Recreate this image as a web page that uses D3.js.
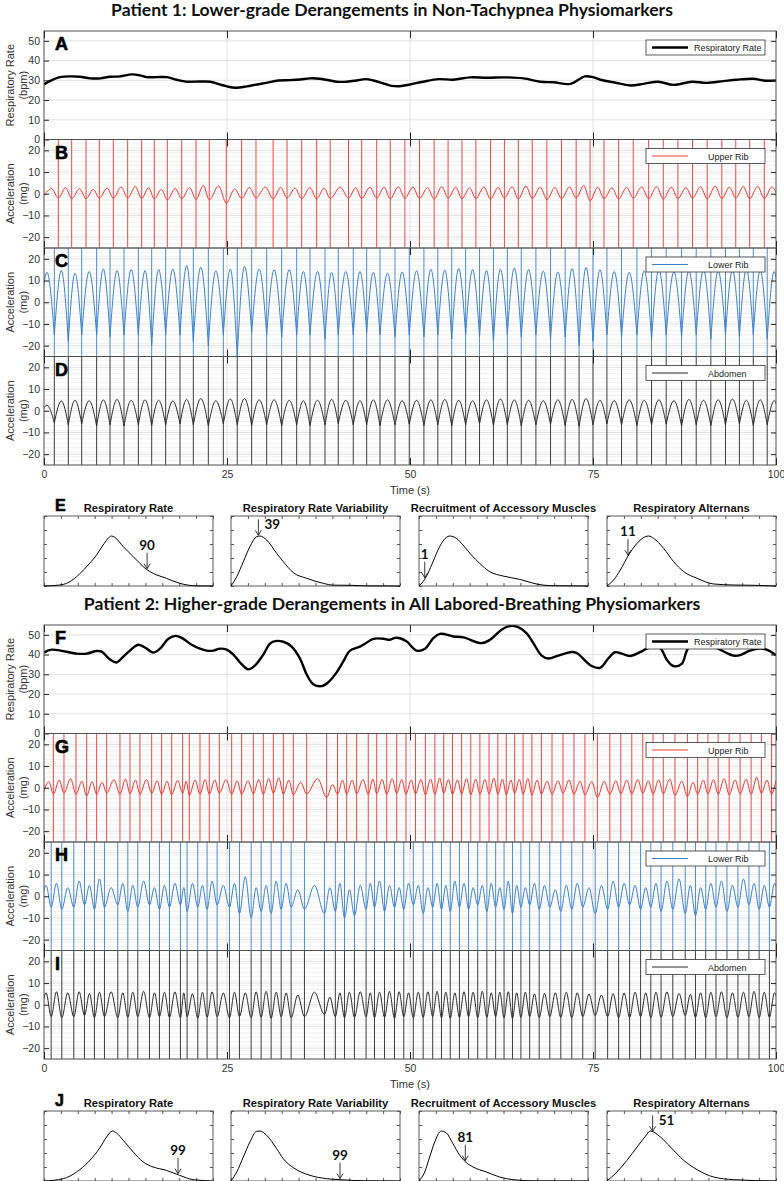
<!DOCTYPE html>
<html><head><meta charset="utf-8">
<script src="https://cdn.jsdelivr.net/npm/d3@7"></script>
<style>body{margin:0;background:#fff}svg{display:block}</style>
</head><body><svg id="c" width="784" height="1181" font-family="Liberation Sans, Arial, sans-serif"></svg>
<script>
// ---------------- DATA ----------------
const timeTicks=[0,25,50,75,100];
const rrTicks=[0,10,20,30,40,50];
const accTicks=[-20,-10,0,10,20];
const titles=["Patient 1: Lower-grade Derangements in Non-Tachypnea Physiomarkers","Patient 2: Higher-grade Derangements in All Labored-Breathing Physiomarkers"];
const densTitles=["Respiratory Rate","Respiratory Rate Variability","Recruitment of Accessory Muscles","Respiratory Alternans"];

// Respiratory rate (bpm) [time s, value]
const rr1=[[0,27.9],[0.8,29.6],[2.2,31.6],[3.6,32],[4.9,31.8],[6.3,31],[7.7,31],[9.0,31.8],[10.4,32],[12.0,33],[13.1,32.5],[14.0,31.6],[15.4,31.6],[16.8,31.6],[18.1,30.3],[19.5,29.3],[21.3,29.4],[22.7,29.3],[24.0,27.9],[25.0,26.9],[26.1,26.2],[27.7,26.9],[29.1,27.9],[30.4,28.7],[32.0,29.9],[33.6,30.1],[35.0,30.4],[36.3,31],[37.7,30.8],[39.1,29.9],[40.0,29.3],[41.4,29.3],[42.7,29.9],[43.9,30.6],[45.0,29.9],[46.4,28.4],[47.5,27.2],[48.6,27.0],[50.0,27.9],[51.8,29.3],[53.9,30.6],[55.9,30.3],[58.2,31.5],[60.5,31.3],[63.2,31.5],[65.5,31],[67.8,29.3],[69.6,29],[71.9,28.2],[73.9,32],[75.0,31.6],[76.0,30.3],[77.8,29],[80.1,27.4],[81.9,28.2],[83.9,29.3],[86.0,27.7],[88.5,29.3],[90.5,28.7],[92.8,29.6],[94.6,30.3],[96.9,30.8],[98.3,29.9],[100,29.9]];
const rr2=[[0,41],[1.05,42.5],[4.46,40.5],[5.83,40.5],[7.19,41.8],[7.88,41.5],[9.02,37.5],[9.93,36],[10.84,39],[12.2,43.5],[12.89,45],[14.03,43],[14.94,41],[15.85,43],[16.99,48],[17.99,49.5],[18.81,48.5],[20.17,45],[21.31,43],[22.22,42],[23.13,42],[24.04,43],[24.95,42.5],[25.87,40],[26.78,36],[27.91,32.5],[28.83,34.5],[29.96,40],[30.87,45.5],[31.56,46.8],[32.7,46.5],[33.83,44],[34.97,38],[35.88,30],[36.79,25],[37.93,24],[38.84,26],[39.98,31],[40.89,36.5],[41.8,42],[43.17,44],[43.85,45.5],[44.99,48],[46.36,48],[47.27,47.5],[47.95,48.5],[48.63,48.3],[49.54,46.7],[50.9,42],[52.05,43],[53.19,48.3],[54.1,50.5],[55.92,49.2],[57.29,48.7],[59.79,45.8],[60.93,47.5],[62.3,52],[63.43,54.3],[64.57,54.2],[65.94,50.8],[66.85,45.8],[67.99,39.5],[68.9,38],[70.26,39.5],[72.09,41.3],[72.77,40.8],[74.82,34.2],[75.96,33.3],[77.09,38],[78.0,41.2],[78.92,40.5],[80.05,39.3],[81.42,41.2],[82.56,43.3],[84.15,43.3],[85.06,37.5],[85.97,34.2],[87.11,35.3],[88.02,43.3],[89.5,46],[91.5,44],[93.26,40.8],[94.17,39.5],[95.08,39.7],[96.45,42],[97.81,43],[98.72,42.5],[100,39.7]];

// Breath marker times (s)
const p1UpperTimes=[-0.1,1.96,3.78,5.74,7.56,9.47,11.43,13.34,15.07,16.85,18.81,20.77,22.58,24.9,27.0,28.96,31.3,33.2,35.2,37.25,39.1,41.6,43.4,45.45,47.3,49.3,51.3,53.3,55.2,57.1,59.0,61.0,62.9,64.8,66.7,68.7,70.7,72.7,74.6,76.5,78.5,80.5,82.6,84.6,86.6,88.6,90.6,92.6,94.5,96.4,98.4,100.3];
const p1LowerTimes=[-0.6,1.41,3.32,5.15,7.19,9.02,10.93,12.89,14.71,16.62,18.58,20.4,22.45,24.5,26.4,28.37,30.42,32.47,34.52,36.34,38.39,40.2,42.25,44.08,45.9,47.95,49.9,51.9,53.8,55.7,57.6,59.5,61.4,63.3,65.2,67.2,69.2,71.2,73.1,75.0,76.9,78.9,81.0,83.0,85.0,87.1,89.1,91.1,93.1,95.0,96.9,98.8,100.7];
const p2UpperTimes=[-0.1,1.28,2.73,4.37,5.83,7.19,8.56,10.38,11.75,13.11,14.71,16.07,17.44,18.94,19.85,21.31,22.58,23.95,25.64,27.0,28.6,29.96,31.33,32.7,34.06,35.88,38.61,40.1,41.35,42.71,44.3,45.45,46.82,48.18,49.45,50.75,52.1,53.4,54.6,55.8,57.05,58.3,59.55,60.8,62.0,63.15,64.3,65.45,66.65,67.95,69.4,70.9,72.4,73.9,75.6,77.3,78.8,80.3,81.8,83.2,84.6,86.2,87.9,89.3,90.7,92.1,93.6,95.1,96.6,98.0,99.4,100.8];
const p2LowerTimes=[-0.4,0.98,2.43,4.07,5.53,6.89,8.26,10.08,11.45,12.81,14.41,15.77,17.14,18.64,19.55,21.01,22.28,23.65,25.34,26.7,28.3,29.66,31.03,32.4,33.76,35.58,38.31,39.8,41.05,42.41,44.0,45.15,46.52,47.88,49.15,50.45,51.8,53.1,54.3,55.5,56.75,58.0,59.25,60.5,61.7,62.85,64.0,65.15,66.35,67.65,69.1,70.6,72.1,73.6,75.3,77.0,78.5,80.0,81.5,82.9,84.3,85.9,87.6,89.0,90.4,91.8,93.3,94.8,96.3,97.7,99.1,100.5];

// Acceleration extremes (mg): trough at each marker, peak after it
const upperRib1Troughs=[-1.2,-2.0,-2.3,-2.3,-2.0,-2.0,-2.0,-2.2,-2.4,-2.8,-2.3,-2.6,-2.8,-4.3,-2.2,-2.0,-2.3,-2.0,-2.3,-2.4,-2.2,-2.0,-2.2,-2.0,-2.4,-2.0,-2.2,-2.5,-2.0,-2.3,-2.2,-2.5,-2.0,-2.4,-2.2,-2.6,-2.3,-2.0,-3.2,-2.2,-2.4,-2.0,-2.3,-2.5,-2.2,-2.0,-2.4,-2.2,-2.0,-2.3,-2.2,-2.0];
const upperRib1Peaks=[2.3,2.8,2.3,2.0,2.6,3.1,3.3,2.8,2.0,2.4,2.8,3.8,3.6,2.2,2.9,3.1,2.9,2.6,2.8,2.6,3.0,2.8,3.0,3.0,3.2,3.0,2.8,3.3,3.0,2.7,3.1,2.9,3.2,3.5,3.0,2.8,3.1,3.8,3.0,2.7,2.9,3.1,3.3,3.0,2.8,3.2,3.5,3.0,3.3,3.4,3.1];
const lowerRib1Troughs=[-12,-15,-18,-15,-15,-16,-15,-15,-20,-15,-15,-18,-20,-15,-25,-14,-15,-16,-15,-15,-17,-15,-15,-14,-15,-16,-15,-16,-15,-17,-15,-16,-18,-15,-16,-15,-17,-16,-20,-18,-15,-16,-15,-17,-15,-16,-15,-17,-15,-16,-15,-17,-15];
const lowerRib1Peaks=[13.8,14.6,13.4,14.2,15.3,14.6,15.0,14.6,15.0,15.3,16.9,16.2,14.5,15.3,16.5,15.3,15.0,15.0,14.2,14.2,13.8,14.2,14.2,13.8,13.4,14.0,14.5,15.2,14.8,15.5,15.0,14.6,15.2,15.8,15.0,14.4,14.0,15.5,16.0,15.0,14.2,13.8,14.5,15.0,14.0,14.6,15.0,14.4,14.8,15.2,14.6,14.2];
const abdomen1Troughs=[-3,-5.5,-6.5,-6.0,-7.0,-6.5,-7.0,-6.5,-6.8,-6.5,-6.0,-6.5,-7.0,-6.0,-6.5,-6.8,-6.5,-7.0,-6.5,-6.8,-6.5,-6.0,-6.5,-6.5,-6.8,-6.5,-6.2,-6.8,-6.5,-7.0,-6.5,-6.0,-6.8,-6.5,-7.0,-6.5,-6.2,-6.8,-7.2,-6.5,-6.0,-6.5,-6.8,-6.5,-6.2,-7.0,-6.5,-6.8,-6.5,-6.0,-6.8,-6.5,-6.5];
const abdomen1Peaks=[2.5,4.5,4.8,4.6,5.0,5.2,4.8,5.0,4.8,4.5,5.2,5.6,4.6,5.4,5.6,5.0,5.0,4.8,4.6,4.8,5.2,4.8,4.6,5.0,5.0,4.6,4.8,5.0,5.2,4.8,4.6,5.0,5.4,5.0,4.8,4.6,5.0,5.2,5.6,4.8,4.6,5.0,4.8,5.0,4.6,5.2,4.8,5.0,5.4,4.8,5.0,4.6];
const upperRib2Troughs=[-2.5,-3.0,-2.5,-3.0,-3.8,-3.0,-2.5,-3.0,-2.8,-3.0,-2.6,-3.0,-3.2,-2.6,-3.5,-3.0,-3.0,-2.5,-3.0,-3.0,-2.8,-3.0,-2.6,-3.0,-3.2,-2.8,-4.5,-3.0,-3.0,-2.8,-3.0,-2.8,-3.0,-2.6,-3.0,-2.8,-3.2,-3.0,-2.6,-3.0,-2.8,-3.2,-3.0,-2.8,-3.0,-3.2,-2.6,-3.0,-3.4,-2.8,-3.0,-2.6,-3.0,-3.2,-4.5,-3.0,-2.8,-3.0,-2.6,-3.0,-2.8,-3.5,-4.0,-3.0,-2.8,-3.0,-3.2,-2.8,-3.0,-2.6,-3.0,-2.8];
const upperRib2Peaks=[2.8,3.5,4.2,3.0,2.8,2.5,3.8,4.0,3.5,3.8,3.2,3.0,3.4,3.0,3.5,3.8,3.6,3.8,3.2,3.2,3.8,4.2,4.6,3.5,2.5,4.2,1.5,3.5,3.5,3.8,4.0,3.8,4.2,3.8,3.5,3.8,4.0,4.5,3.8,3.6,4.2,4.0,3.8,4.4,4.0,3.6,3.8,4.2,3.5,3.0,3.2,3.6,3.0,2.8,3.0,3.2,3.5,3.8,3.2,3.6,4.0,3.0,2.5,3.5,3.8,4.2,3.6,4.0,4.8,3.5,3.8];
const lowerRib2Troughs=[-4,-5,-6,-5,-4,-6,-5,-4,-7,-5,-4,-6,-5,-4,-7,-5,-6,-4,-5,-8,-10,-7,-8,-6,-5,-6,-8,-7,-10,-9,-6,-5,-7,-5,-6,-4,-8,-5,-6,-7,-5,-6,-4,-7,-5,-6,-8,-5,-4,-6,-5,-7,-6,-5,-8,-6,-5,-4,-6,-5,-7,-6,-8,-9,-6,-5,-7,-5,-4,-6,-5,-5];
const lowerRib2Peaks=[5,6,4,7,5,8,4,6,5,7,4,5,6,4,6,5,7,5,6,9,4,5,7,6,3,5,4,6,3,5,6,7,5,4,6,5,4,6,5,7,6,4,5,6,4,7,5,4,6,5,3,5,6,4,5,7,6,5,4,6,7,8,5,4,6,7,5,8,6,5,6];
const abdomen2Troughs=[-5,-5.5,-6,-5.5,-5,-6,-5.5,-6,-5.8,-5.5,-6,-5.5,-5.8,-6,-5.5,-6.2,-5.8,-5.5,-6,-5.5,-6,-5.8,-6.2,-5.5,-6,-5.5,-4.5,-5.5,-6,-5.8,-5.5,-6,-5.8,-6.2,-5.5,-6,-5.8,-5.5,-6,-6.2,-5.8,-5.5,-6,-5.8,-5.5,-6,-6.2,-5.8,-5.5,-6,-5.5,-5.8,-6,-5.5,-5,-5.5,-6,-5.8,-5.5,-6,-5.8,-5.5,-5,-5.8,-6,-5.5,-6,-5.8,-5.5,-6,-5.8,-5.5];
const abdomen2Peaks=[5.5,6,5.5,6,5.2,5.8,6,5.5,5.8,6.2,5.5,5.8,6,5.5,5,5.8,6,5.5,5.8,5.5,6,6.2,5.8,5.5,4.5,5.8,3.5,5.5,5.8,6,5.5,5.8,6.2,6,5.5,5.8,6,6.2,5.8,5.5,6,5.8,6.2,5.5,5.8,6,5.5,5.8,5,5.2,5.5,5.8,5.5,5,4.5,5.2,5.5,5.8,5.5,5.8,6,5.2,4.8,5.5,5.8,6,5.5,5.8,6.2,5.8,5.5];

// Distribution curves [x fraction, density]
const dE1=[[0,0],[0.094,0.014],[0.134,0.038],[0.193,0.133],[0.252,0.276],[0.311,0.443],[0.350,0.586],[0.400,0.714],[0.419,0.695],[0.469,0.562],[0.528,0.419],[0.567,0.324],[0.606,0.238],[0.646,0.181],[0.724,0.110],[0.803,0.038],[0.902,0.002],[1,0]];
const dE2=[[0,0],[0.034,0.133],[0.073,0.348],[0.112,0.562],[0.152,0.705],[0.171,0.714],[0.211,0.657],[0.270,0.467],[0.309,0.348],[0.369,0.190],[0.448,0.110],[0.546,0.038],[0.606,0.012],[0.704,0.01],[0.803,0.002],[1,0]];
const dE3=[[0,0],[0.024,0.062],[0.053,0.181],[0.083,0.348],[0.122,0.562],[0.162,0.695],[0.181,0.714],[0.221,0.681],[0.260,0.586],[0.310,0.443],[0.359,0.324],[0.418,0.205],[0.497,0.143],[0.596,0.095],[0.694,0.029],[0.773,0.005],[1,0]];
const dE4=[[0,0],[0.039,0.086],[0.079,0.229],[0.128,0.443],[0.178,0.610],[0.227,0.705],[0.247,0.714],[0.276,0.681],[0.335,0.538],[0.394,0.348],[0.454,0.205],[0.533,0.110],[0.631,0.029],[0.750,0.014],[0.868,0.010],[1,0]];
const dJ1=[[0,0],[0.114,0.033],[0.193,0.129],[0.262,0.271],[0.331,0.476],[0.370,0.629],[0.406,0.714],[0.429,0.686],[0.469,0.581],[0.528,0.414],[0.587,0.271],[0.646,0.200],[0.724,0.152],[0.803,0.081],[0.882,0.019],[1,0]];
const dJ2=[[0,0],[0.034,0.129],[0.073,0.343],[0.112,0.557],[0.152,0.710],[0.171,0.714],[0.211,0.652],[0.270,0.462],[0.309,0.319],[0.369,0.190],[0.467,0.081],[0.566,0.033],[0.645,0.019],[0.803,0.002],[1,0]];
const dJ3=[[0,0],[0.034,0.129],[0.063,0.343],[0.093,0.557],[0.122,0.700],[0.132,0.714],[0.162,0.686],[0.201,0.533],[0.241,0.367],[0.276,0.271],[0.320,0.200],[0.398,0.129],[0.477,0.057],[0.556,0.019],[0.675,0.002],[1,0]];
const dJ4=[[0,0],[0.059,0.129],[0.118,0.295],[0.178,0.486],[0.227,0.638],[0.256,0.714],[0.316,0.629],[0.375,0.486],[0.454,0.295],[0.533,0.162],[0.631,0.057],[0.750,0.019],[1,0]];
const markersE=[90,39,1,11];
const markersEx=[0.61,0.162,0.034,0.124];
const markersJ=[99,99,81,51];
const markersJx=[0.793,0.645,0.274,0.27];

// ---------------- DRAWING ----------------
const SANS='Liberation Sans, Arial, sans-serif';
const TITLEF='Lato, Open Sans, sans-serif';
const svg=d3.select('#c');
const defs=svg.append('defs');
const X0=44,X1=776;
const x=d3.scaleLinear().domain([0,100]).range([X0,X1]);
const AX='#262626';

function wavePts(times,tr,pk,phase){
  const pts=[];
  for(let i=0;i<times.length;i++){
    pts.push([times[i],tr[Math.min(i,tr.length-1)]]);
    if(i<times.length-1) pts.push([times[i]+(times[i+1]-times[i])*phase,pk[Math.min(i,pk.length-1)]]);
  }
  return pts;
}

function timePanel(c){
  const top=c.top,h=c.h,bot=top+h;
  const y=d3.scaleLinear().domain(c.domain).range([bot,top]);
  const g=svg.append('g');
  const cid='clip'+c.letter;
  defs.append('clipPath').attr('id',cid).append('rect').attr('x',X0).attr('y',top).attr('width',X1-X0).attr('height',h);
  if(c.minor){
    g.selectAll(null).data(d3.range(c.domain[0],c.domain[1]+1e-6,c.minor)).join('line')
      .attr('x1',X0).attr('x2',X1).attr('y1',d=>y(d)).attr('y2',d=>y(d)).attr('stroke','#ececec').attr('stroke-width',0.8);
  }
  g.selectAll(null).data(c.ticks).join('line')
    .attr('x1',X0).attr('x2',X1).attr('y1',d=>y(d)).attr('y2',d=>y(d)).attr('stroke','#dedede').attr('stroke-width',0.9);
  g.selectAll(null).data(timeTicks.slice(1,-1)).join('line')
    .attr('x1',d=>x(d)).attr('x2',d=>x(d)).attr('y1',top).attr('y2',bot).attr('stroke','#dedede').attr('stroke-width',0.9);
  const p=g.append('g').attr('clip-path',`url(#${cid})`);
  if(c.times){
    p.selectAll(null).data(c.times).join('line')
      .attr('x1',d=>x(d)).attr('x2',d=>x(d)).attr('y1',top).attr('y2',bot)
      .attr('stroke',c.color).attr('stroke-width',1).attr('opacity',0.9);
  }
  const line=d3.line().x(d=>x(d[0])).y(d=>y(d[1]));
  let dstr='';
  if(c.series){
    dstr=line.curve(d3.curveCatmullRom.alpha(0.5))(c.series);
  } else if(c.sharp){
    const pts=wavePts(c.times,c.troughs,c.peaks,c.phase);
    line.curve(d3.curveMonotoneX);
    for(let i=0;i+2<pts.length;i+=2) dstr+=line([pts[i],pts[i+1],pts[i+2]]);
  } else {
    dstr=line.curve(d3.curveMonotoneX)(wavePts(c.times,c.troughs,c.peaks,c.phase));
  }
  p.append('path').attr('d',dstr).attr('fill','none').attr('stroke',c.color).attr('stroke-width',c.sw).attr('stroke-linejoin','round');
  g.append('rect').attr('x',X0).attr('y',top).attr('width',X1-X0).attr('height',h).attr('fill','none').attr('stroke','#505050').attr('stroke-width',1);
  const ya=g.append('g').attr('transform',`translate(${X0},0)`)
    .call(d3.axisLeft(y).tickValues(c.ticks).tickSizeInner(-5).tickSizeOuter(0).tickPadding(4));
  const yr=g.append('g').attr('transform',`translate(${X1},0)`)
    .call(d3.axisRight(y).tickValues(c.ticks).tickSizeInner(-5).tickSizeOuter(0).tickFormat(''));
  const xt=g.append('g').attr('transform',`translate(0,${top})`)
    .call(d3.axisTop(x).tickValues(timeTicks).tickSizeInner(-7).tickSizeOuter(0).tickFormat(''));
  const xb=g.append('g').attr('transform',`translate(0,${bot})`)
    .call(d3.axisBottom(x).tickValues(timeTicks).tickSizeInner(-7).tickSizeOuter(0).tickPadding(6).tickFormat(c.xlabels?d3.format('d'):''));
  [ya,yr,xt,xb].forEach(a=>{a.select('.domain').remove();a.selectAll('line').attr('stroke',AX);
    a.attr('font-family',SANS).attr('font-size',10.5);
    a.selectAll('text').attr('fill','#333');});
  const yl=g.append('text').attr('transform',`translate(${10},${top+h/2}) rotate(-90)`).attr('text-anchor','middle')
    .attr('font-size',11).attr('fill','#333');
  yl.append('tspan').attr('x',0).attr('dy','0.35em').text(c.ylabel[0]);
  yl.append('tspan').attr('x',0).attr('dy','1.15em').text(c.ylabel[1]);
  g.append('text').attr('x',X0+11).attr('y',top+19).attr('font-size',18).attr('font-weight','bold')
    .attr('font-family',SANS).attr('fill','#000').attr('stroke','#000').attr('stroke-width',0.6).text(c.letter);
  const lg=g.append('g').attr('transform',`translate(646,${top+9})`);
  lg.append('rect').attr('width',119).attr('height',15).attr('fill','#fff').attr('stroke','#333').attr('stroke-width',0.8);
  lg.append('line').attr('x1',6).attr('x2',42).attr('y1',7.5).attr('y2',7.5).attr('stroke',c.color).attr('stroke-width',c.sw);
  lg.append('text').attr('x',c.legendX||48).attr('y',11).attr('font-size',9).attr('fill','#222').text(c.legend);
}

function densPanel(x0,top,w,h,data,mv,mx,title,side,letter){
  const xs=d3.scaleLinear().domain([0,1]).range([x0,x0+w]);
  const ys=d3.scaleLinear().domain([0,1]).range([top+h,top]);
  const g=svg.append('g');
  g.append('rect').attr('x',x0).attr('y',top).attr('width',w).attr('height',h).attr('fill','#fff').attr('stroke','#5a5a5a').attr('stroke-width',1);
  const ax=[d3.axisTop(xs).ticks(10),d3.axisBottom(xs).ticks(10),d3.axisLeft(ys).ticks(5),d3.axisRight(ys).ticks(5)];
  const tr=[`translate(0,${top})`,`translate(0,${top+h})`,`translate(${x0},0)`,`translate(${x0+w},0)`];
  ax.forEach((a,i)=>{const gg=g.append('g').attr('transform',tr[i]).call(a.tickSizeInner(-3).tickSizeOuter(0).tickFormat(''));
    gg.select('.domain').remove();gg.selectAll('line').attr('stroke','#555');});
  g.append('path').attr('d',d3.line().x(d=>xs(d[0])).y(d=>ys(d[1])).curve(d3.curveMonotoneX)(data))
    .attr('fill','none').attr('stroke','#000').attr('stroke-width',1);
  g.append('text').attr('x',x0+w/2).attr('y',top-4).attr('text-anchor','middle').attr('font-size',11.2).attr('font-weight','bold').attr('font-family',SANS).attr('fill','#111').text(title);
  const i=d3.bisector(d=>d[0]).right(data,mx);
  const a=data[Math.max(0,i-1)],b=data[Math.min(data.length-1,i)];
  const v=b[0]===a[0]?a[1]:a[1]+(b[1]-a[1])*(mx-a[0])/(b[0]-a[0]);
  const ax0=xs(mx),ay1=ys(v)-1,ay0=ay1-16;
  g.append('line').attr('x1',ax0).attr('x2',ax0).attr('y1',ay0).attr('y2',ay1).attr('stroke','#222').attr('stroke-width',0.9);
  g.append('path').attr('d',`M${ax0-3},${ay1-5}L${ax0},${ay1}L${ax0+3},${ay1-5}`).attr('fill','none').attr('stroke','#222').attr('stroke-width',0.9);
  const t=g.append('text').attr('font-size',13.5).attr('font-weight','bold').attr('font-family',TITLEF).attr('fill','#111').text(mv);
  if(side==='right') t.attr('x',ax0+6).attr('y',ay0+10);
  else t.attr('x',ax0).attr('y',ay0-3).attr('text-anchor','middle');
  if(letter) g.append('text').attr('x',x0+11).attr('y',top-5).attr('font-size',16).attr('font-weight','bold')
    .attr('font-family',SANS).attr('stroke','#000').attr('stroke-width',0.6).text(letter);
}

function title(txt,yb,target){
  const t=svg.append('text').attr('x',392).attr('y',yb).attr('text-anchor','middle').attr('font-size',17)
    .attr('font-weight','bold').attr('font-family',TITLEF).attr('fill','#111').text(txt);
  const L=t.node().getComputedTextLength();
  t.attr('font-size',17*target/L);
}

const RED='#e53a35',BLUE='#3d80c7',BLK='#2a2a2a';
const H=108.5;
function patient(tops,rr,uT,uTr,uPk,lT,lTr,lPk,aTr,aPk,letters){
  timePanel({letter:letters[0],top:tops,h:H,domain:[0,55],ticks:rrTicks,series:rr,color:'#000',sw:2.4,ylabel:['Respiratory Rate','(bpm)'],legend:'Respiratory Rate'});
  timePanel({letter:letters[1],top:tops+H,h:H,domain:[-25,25],ticks:accTicks,minor:2,times:uT,troughs:uTr,peaks:uPk,phase:0.55,color:RED,sw:1,ylabel:['Acceleration','(mg)'],legend:'Upper Rib',legendX:62});
  timePanel({letter:letters[2],top:tops+2*H,h:H,domain:[-25,25],ticks:accTicks,minor:2,times:lT,troughs:lTr,peaks:lPk,phase:0.5,sharp:letters[2]==='C',color:BLUE,sw:1,ylabel:['Acceleration','(mg)'],legend:'Lower Rib',legendX:62});
  timePanel({letter:letters[3],top:tops+3*H,h:H,domain:[-25,25],ticks:accTicks,minor:2,times:lT,troughs:aTr,peaks:aPk,phase:0.5,sharp:letters[3]==='D',color:BLK,sw:1,ylabel:['Acceleration','(mg)'],legend:'Abdomen',legendX:62,xlabels:true});
  svg.append('text').attr('x',410).attr('y',tops+4*H+29).attr('text-anchor','middle').attr('font-size',11).attr('fill','#333').text('Time (s)');
}

title(titles[0],16,562);
patient(31,rr1,p1UpperTimes,upperRib1Troughs,upperRib1Peaks,p1LowerTimes,lowerRib1Troughs,lowerRib1Peaks,abdomen1Troughs,abdomen1Peaks,['A','B','C','D']);
const DX=[44,231,419,607],DW=169,DH=70;
const dE=[dE1,dE2,dE3,dE4],dJ=[dJ1,dJ2,dJ3,dJ4];
const sideE=['above','right','above','above'],sideJ=['above','above','above','right'];
dE.forEach((d,i)=>densPanel(DX[i],516,DW,DH,d,markersE[i],markersEx[i],densTitles[i],sideE[i],i===0?'E':null));

title(titles[1],610,617);
patient(625,rr2,p2UpperTimes,upperRib2Troughs,upperRib2Peaks,p2LowerTimes,lowerRib2Troughs,lowerRib2Peaks,abdomen2Troughs,abdomen2Peaks,['F','G','H','I']);
dJ.forEach((d,i)=>densPanel(DX[i],1111,DW,DH,d,markersJ[i],markersJx[i],densTitles[i],sideJ[i],i===0?'J':null));
</script></body></html>
